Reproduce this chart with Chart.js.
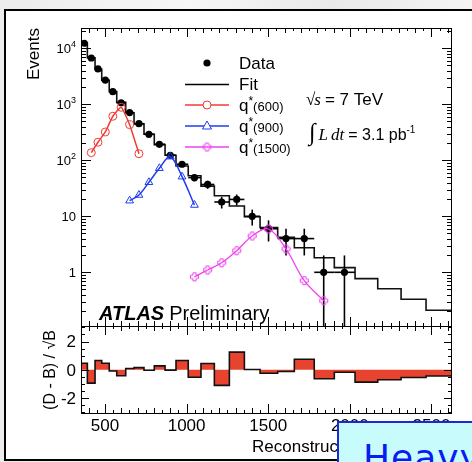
<!DOCTYPE html>
<html>
<head>
<meta charset="utf-8">
<script src="https://cdn.jsdelivr.net/npm/chart.js@4.4.1/dist/chart.umd.min.js"></script>
<style>
  html, body { margin: 0; padding: 0; }
  body { width: 472px; height: 462px; overflow: hidden; position: relative;
         background: linear-gradient(90deg, #ececec, #f7f7f7 40%, #e9e9e9 70%, #f4f4f4); }
  #frame { position: absolute; left: 4px; top: 9px; width: 490px; height: 448px;
           border: 2px solid #000; background: #fff; }
  canvas { position: absolute; left: 0; top: 0; }
  #heavy { position: absolute; left: 337px; top: 421px; width: 150px; height: 60px;
           border: 2px solid #1a2ad0; background: #c8fbfb; overflow: hidden; }
  #heavy span { position: absolute; left: 24px; top: 14px; font: 36px "DejaVu Sans", sans-serif;
                color: #0b1cf2; letter-spacing: 1px; }
</style>
</head>
<body>
<div id="frame"></div>
<canvas id="mainPlot" width="472" height="462"></canvas>
<canvas id="ratioPlot" width="472" height="462"></canvas>
<div id="heavy"><span>Heavy</span></div>
<script>
// mass bins [GeV]
const binEdges = [353, 392, 439, 480, 526, 572, 627, 678, 739, 802, 868, 935, 1010, 1088,
                  1170, 1262, 1354, 1450, 1558, 1660, 1782, 1905, 2032, 2171, 2314, 2467, 2626];
const binCenters = [373, 416, 457, 502, 548, 599, 651, 708, 769, 833, 900, 972, 1048,
                    1129, 1215, 1307, 1402, 1502, 1609, 1721, 1840, 1967];
// observed events per bin
const dataCounts = [12300, 6700, 4270, 2700, 1680, 1065, 710, 450, 291, 193, 123, 85, 49,
                    37, 18, 20, 10, 6, 4, 4, 1, 1];
// background fit per bin
const fitCounts = [12250, 6780, 4230, 2675, 1682, 1080, 707, 447, 291, 190, 123, 79, 53,
                   34.5, 23.3, 15.3, 9.8, 6.3, 4.2, 2.75, 1.82, 1.21, 0.77, 0.51, 0.33, 0.21];
// significance (D - B)/sqrt(B) per bin
const ratioValues = [0.47, -0.94, 0.66, 0.47, -0.08, -0.42, 0.1, 0.16, -0.03, 0.28, -0.02, 0.66,
                     -0.52, 0.45, -1.1, 1.25, 0.02, -0.24, -0.12, 0.75, -0.63, -0.17, -0.87,
                     -0.7, -0.54, -0.43];
// excited quark signal templates
const q600Mass = [416, 457, 502, 548, 599, 651, 708];
const q600Counts = [137, 210, 320, 611, 884, 432, 131];
const q900Mass = [651, 708, 769, 833, 900, 972, 1048];
const q900Counts = [19, 24, 40.5, 72, 116, 51, 15.9];
const q1500Mass = [1048, 1129, 1215, 1307, 1402, 1502, 1609, 1721, 1840];
const q1500Counts = [0.83, 1.1, 1.48, 2.43, 4.45, 5.93, 2.61, 0.71, 0.31];

const massTicks = [500, 1000, 1500, 2000, 2500];
const eventTicks = [[1, '1'], [10, '10'], [100, '10', '2'], [1000, '10', '3'], [10000, '10', '4']];
const ratioTicks = [-2, 0, 2];

const RED = '#f03c34', BLUE = '#1f3cf0', MAGENTA = '#ee44ee';
const SANS = '"Liberation Sans", Arial, sans-serif';
const SERIF = '"Liberation Serif", "Times New Roman", serif';
Chart.defaults.font.family = SANS;

function histPoints(values) {
  const pts = values.map((v, i) => ({x: binEdges[i], y: v}));
  pts.push({x: binEdges[values.length], y: values[values.length - 1]});
  return pts;
}

function openCross(color, r) {
  const c = document.createElement('canvas');
  const s = 2 * r + 3;
  c.width = c.height = s;
  const g = c.getContext('2d');
  const m = s / 2, a = r * 0.4;
  g.strokeStyle = color;
  g.lineWidth = 1;
  g.beginPath();
  g.moveTo(m - a, m - r); g.lineTo(m + a, m - r); g.lineTo(m + a, m - a); g.lineTo(m + r, m - a);
  g.lineTo(m + r, m + a); g.lineTo(m + a, m + a); g.lineTo(m + a, m + r); g.lineTo(m - a, m + r);
  g.lineTo(m - a, m + a); g.lineTo(m - r, m + a); g.lineTo(m - r, m - a); g.lineTo(m - a, m - a);
  g.closePath();
  g.stroke();
  return c;
}
const crossMark = openCross(MAGENTA, 4);

function seg(ctx, x1, y1, x2, y2) {
  ctx.beginPath(); ctx.moveTo(x1, y1); ctx.lineTo(x2, y2); ctx.stroke();
}

// draws a run of differently styled text pieces left to right on one baseline
function richText(ctx, parts, x, y) {
  ctx.textBaseline = 'alphabetic';
  ctx.textAlign = 'left';
  for (const p of parts) {
    ctx.font = p.font;
    ctx.fillText(p.t, x, y + (p.dy || 0));
    x += ctx.measureText(p.t).width + (p.gap || 0);
  }
  return x;
}

function xTicks(ctx, x, a, withTop) {
  for (let m = 400; m <= 2600; m += 50) {
    const px = Math.round(x.getPixelForValue(m)) + 0.5;
    const len = m % 500 === 0 ? 9 : (m % 100 === 0 ? 5 : 3);
    seg(ctx, px, a.bottom, px, a.bottom - len);
    if (withTop) seg(ctx, px, a.top, px, a.top + len);
  }
}

// error bars under the data markers
const errorBars = {
  id: 'errorBars',
  beforeDatasetDraw(chart, args) {
    if (chart.data.datasets[args.index].label !== 'Data') return;
    const {ctx, chartArea: a, scales: {x, y}} = chart;
    ctx.save();
    ctx.beginPath();
    ctx.rect(a.left, a.top, a.right - a.left, a.bottom - a.top);
    ctx.clip();
    ctx.strokeStyle = '#000';
    ctx.lineWidth = 1.6;
    dataCounts.forEach((n, i) => {
      const cx = x.getPixelForValue(binCenters[i]);
      const cy = y.getPixelForValue(n);
      const err = Math.sqrt(n);
      const yHi = y.getPixelForValue(n + err);
      const yLo = n - err > 0 ? y.getPixelForValue(n - err) : a.bottom;
      seg(ctx, cx, yHi, cx, yLo);
      seg(ctx, x.getPixelForValue(binEdges[i]), cy, x.getPixelForValue(binEdges[i + 1]), cy);
    });
    ctx.restore();
  }
};

// frame, ticks, labels and text of the upper panel
const mainDecor = {
  id: 'mainDecor',
  afterDraw(chart) {
    const {ctx, chartArea: a, scales: {x, y}} = chart;
    ctx.save();
    ctx.strokeStyle = '#000';
    ctx.fillStyle = '#000';
    ctx.lineWidth = 1;
    ctx.strokeRect(a.left + 0.5, a.top + 0.5, a.right - a.left - 1, a.bottom - a.top);
    xTicks(ctx, x, a, true);
    for (let d = -1; d <= 4; d++) {
      for (let k = 1; k <= 9; k++) {
        const v = k * Math.pow(10, d);
        if (v < y.min || v > y.max) continue;
        const py = Math.round(y.getPixelForValue(v)) + 0.5;
        const len = k === 1 ? 10 : 5;
        seg(ctx, a.left, py, a.left + len, py);
        seg(ctx, a.right, py, a.right - len, py);
      }
    }
    // y tick labels
    for (const [v, base, exp] of eventTicks) {
      const py = y.getPixelForValue(v);
      ctx.font = '13px ' + SANS;
      const wb = ctx.measureText(base).width;
      ctx.font = '9px ' + SANS;
      const we = exp ? ctx.measureText(exp).width : 0;
      const x0 = 76 - wb - we;
      richText(ctx, [{t: base, font: '13px ' + SANS}], x0, py + 5);
      if (exp) richText(ctx, [{t: exp, font: '9px ' + SANS}], x0 + wb, py - 1);
    }
    // axis title
    ctx.save();
    ctx.translate(39, 28);
    ctx.rotate(-Math.PI / 2);
    ctx.font = '17px ' + SANS;
    ctx.textAlign = 'right';
    ctx.textBaseline = 'alphabetic';
    ctx.fillText('Events', 0, 0);
    ctx.restore();

    // legend
    const rows = [
      {label: [{t: 'Data', font: '17px ' + SANS}], y: 63, kind: 'data'},
      {label: [{t: 'Fit', font: '17px ' + SANS}], y: 84, kind: 'fit'},
      {label: [{t: 'q', font: '17px ' + SANS}, {t: '*', font: '12px ' + SANS, dy: -6},
               {t: '(600)', font: '13px ' + SANS}], y: 105, kind: 'q600'},
      {label: [{t: 'q', font: '17px ' + SANS}, {t: '*', font: '12px ' + SANS, dy: -6},
               {t: '(900)', font: '13px ' + SANS}], y: 126, kind: 'q900'},
      {label: [{t: 'q', font: '17px ' + SANS}, {t: '*', font: '12px ' + SANS, dy: -6},
               {t: '(1500)', font: '13px ' + SANS}], y: 147, kind: 'q1500'}
    ];
    for (const r of rows) {
      const mx = 207;
      ctx.lineWidth = 1.5;
      if (r.kind === 'data') {
        ctx.beginPath(); ctx.arc(mx, r.y, 3.6, 0, 2 * Math.PI); ctx.fill();
      } else if (r.kind === 'fit') {
        ctx.strokeStyle = '#000'; seg(ctx, 185, r.y + 0.5, 229, r.y + 0.5);
      } else {
        const col = r.kind === 'q600' ? RED : r.kind === 'q900' ? BLUE : MAGENTA;
        ctx.strokeStyle = col;
        seg(ctx, 185, r.y, 229, r.y);
        ctx.lineWidth = 1;
        if (r.kind === 'q600') {
          ctx.fillStyle = '#fff';
          ctx.beginPath(); ctx.arc(mx, r.y, 4, 0, 2 * Math.PI); ctx.fill(); ctx.stroke();
        } else if (r.kind === 'q900') {
          ctx.fillStyle = '#fff';
          ctx.beginPath(); ctx.moveTo(mx, r.y - 5); ctx.lineTo(mx + 4.5, r.y + 3);
          ctx.lineTo(mx - 4.5, r.y + 3); ctx.closePath(); ctx.fill(); ctx.stroke();
        } else {
          ctx.drawImage(crossMark, mx - crossMark.width / 2, r.y - crossMark.height / 2);
        }
        ctx.fillStyle = '#000';
        ctx.strokeStyle = '#000';
      }
      richText(ctx, r.label, 239, r.y + 6);
    }

    // centre-of-mass energy and luminosity
    let tx = richText(ctx, [{t: '\u221A', font: '17px ' + SERIF}], 306, 105);
    tx = richText(ctx, [{t: 's', font: 'italic 17px ' + SERIF, gap: 4}], tx - 1, 105);
    richText(ctx, [{t: '= 7 TeV', font: '17px ' + SANS}], tx, 105);
    tx = richText(ctx, [{t: '\u222B', font: '24px ' + SERIF, gap: 3}], 309, 140);
    tx = richText(ctx, [{t: 'L', font: 'italic 17px ' + SERIF, gap: 3}], tx, 140);
    tx = richText(ctx, [{t: 'dt', font: 'italic 17px ' + SERIF, gap: 4}], tx, 140);
    tx = richText(ctx, [{t: '= 3.1 pb', font: '16px ' + SANS}], tx, 140);
    richText(ctx, [{t: '-1', font: '10px ' + SANS}], tx, 133);

    // experiment label
    tx = richText(ctx, [{t: 'ATLAS', font: 'italic bold 20px ' + SANS, gap: 5}], 99, 320);
    richText(ctx, [{t: 'Preliminary', font: '20px ' + SANS}], tx, 320);
    ctx.restore();
  }
};

// frame, ticks, labels of the lower panel
const ratioDecor = {
  id: 'ratioDecor',
  afterDraw(chart) {
    const {ctx, chartArea: a, scales: {x, y}} = chart;
    ctx.save();
    ctx.strokeStyle = '#000';
    ctx.fillStyle = '#000';
    ctx.lineWidth = 1;
    ctx.strokeRect(a.left + 0.5, a.top + 0.5, a.right - a.left - 1, a.bottom - a.top);
    xTicks(ctx, x, a, true);
    for (let v = -3; v <= 3; v += 0.5) {
      const py = Math.round(y.getPixelForValue(v)) + 0.5;
      const len = v % 2 === 0 ? 8 : 4;
      seg(ctx, a.left, py, a.left + len, py);
      seg(ctx, a.right, py, a.right - len, py);
    }
    ctx.font = '17px ' + SANS;
    ctx.textBaseline = 'middle';
    ctx.textAlign = 'right';
    for (const v of ratioTicks) ctx.fillText(String(v), 76, y.getPixelForValue(v) + 1);
    ctx.textAlign = 'center';
    ctx.textBaseline = 'top';
    for (const m of massTicks) ctx.fillText(String(m), x.getPixelForValue(m), 418);
    // axis titles
    richText(ctx, [{t: 'Reconstructed m', font: '17px ' + SANS},
                   {t: 'jj', font: '12px ' + SANS, dy: 4, gap: 4},
                   {t: '[GeV]', font: '17px ' + SANS}], 252, 452);
    ctx.save();
    ctx.translate(55, 370);
    ctx.rotate(-Math.PI / 2);
    ctx.font = '16px ' + SANS;
    ctx.textAlign = 'center';
    ctx.textBaseline = 'alphabetic';
    ctx.fillText('(D - B) / \u221AB', 0, 0);
    ctx.restore();
    ctx.restore();
  }
};

const mainChart = new Chart(document.getElementById('mainPlot'), {
  type: 'line',
  data: {
    datasets: [
      {label: 'q*(600)', data: q600Mass.map((m, i) => ({x: m, y: q600Counts[i]})),
       borderColor: RED, borderWidth: 1.5, tension: 0.15, pointStyle: 'circle', pointRadius: 4,
       pointBorderWidth: 1, pointBorderColor: RED, pointBackgroundColor: 'rgba(0,0,0,0)', order: 0},
      {label: 'q*(900)', data: q900Mass.map((m, i) => ({x: m, y: q900Counts[i]})),
       borderColor: BLUE, borderWidth: 1.5, tension: 0.35, pointStyle: 'triangle', pointRadius: 4.5,
       pointBorderWidth: 1, pointBorderColor: BLUE, pointBackgroundColor: 'rgba(0,0,0,0)', order: 0},
      {label: 'q*(1500)', data: q1500Mass.map((m, i) => ({x: m, y: q1500Counts[i]})),
       borderColor: MAGENTA, borderWidth: 1.3, tension: 0.35, pointStyle: crossMark, pointRadius: 4,
       order: 0},
      {label: 'Data', data: binCenters.map((m, i) => ({x: m, y: dataCounts[i]})),
       showLine: false, pointStyle: 'circle', pointRadius: 3.6, pointBorderWidth: 0,
       pointBackgroundColor: '#000', order: 1},
      {label: 'Fit', data: histPoints(fitCounts), stepped: 'before', borderColor: '#111',
       borderWidth: 1.6, pointRadius: 0, order: 2}
    ]
  },
  options: {
    responsive: false,
    animation: false,
    events: [],
    layout: {padding: {left: 81, top: 28, right: 20, bottom: 136}},
    plugins: {legend: {display: false}, tooltip: {enabled: false}},
    scales: {
      x: {type: 'linear', min: 353, max: 2626, display: false},
      y: {type: 'logarithmic', min: 0.11, max: 23000, display: false}
    }
  },
  plugins: [errorBars, mainDecor]
});

const ratioChart = new Chart(document.getElementById('ratioPlot'), {
  type: 'line',
  data: {
    datasets: [
      {label: 'significance', data: histPoints(ratioValues), stepped: 'before',
       borderColor: '#111', borderWidth: 1.6, pointRadius: 0,
       fill: 'origin', backgroundColor: '#e8432f'}
    ]
  },
  options: {
    responsive: false,
    animation: false,
    events: [],
    layout: {padding: {left: 81, top: 326, right: 20, bottom: 49}},
    plugins: {legend: {display: false}, tooltip: {enabled: false}},
    scales: {
      x: {type: 'linear', min: 353, max: 2626, display: false},
      y: {type: 'linear', min: -3.05, max: 3.1, display: false}
    }
  },
  plugins: [ratioDecor]
});
</script>
</body>
</html>
